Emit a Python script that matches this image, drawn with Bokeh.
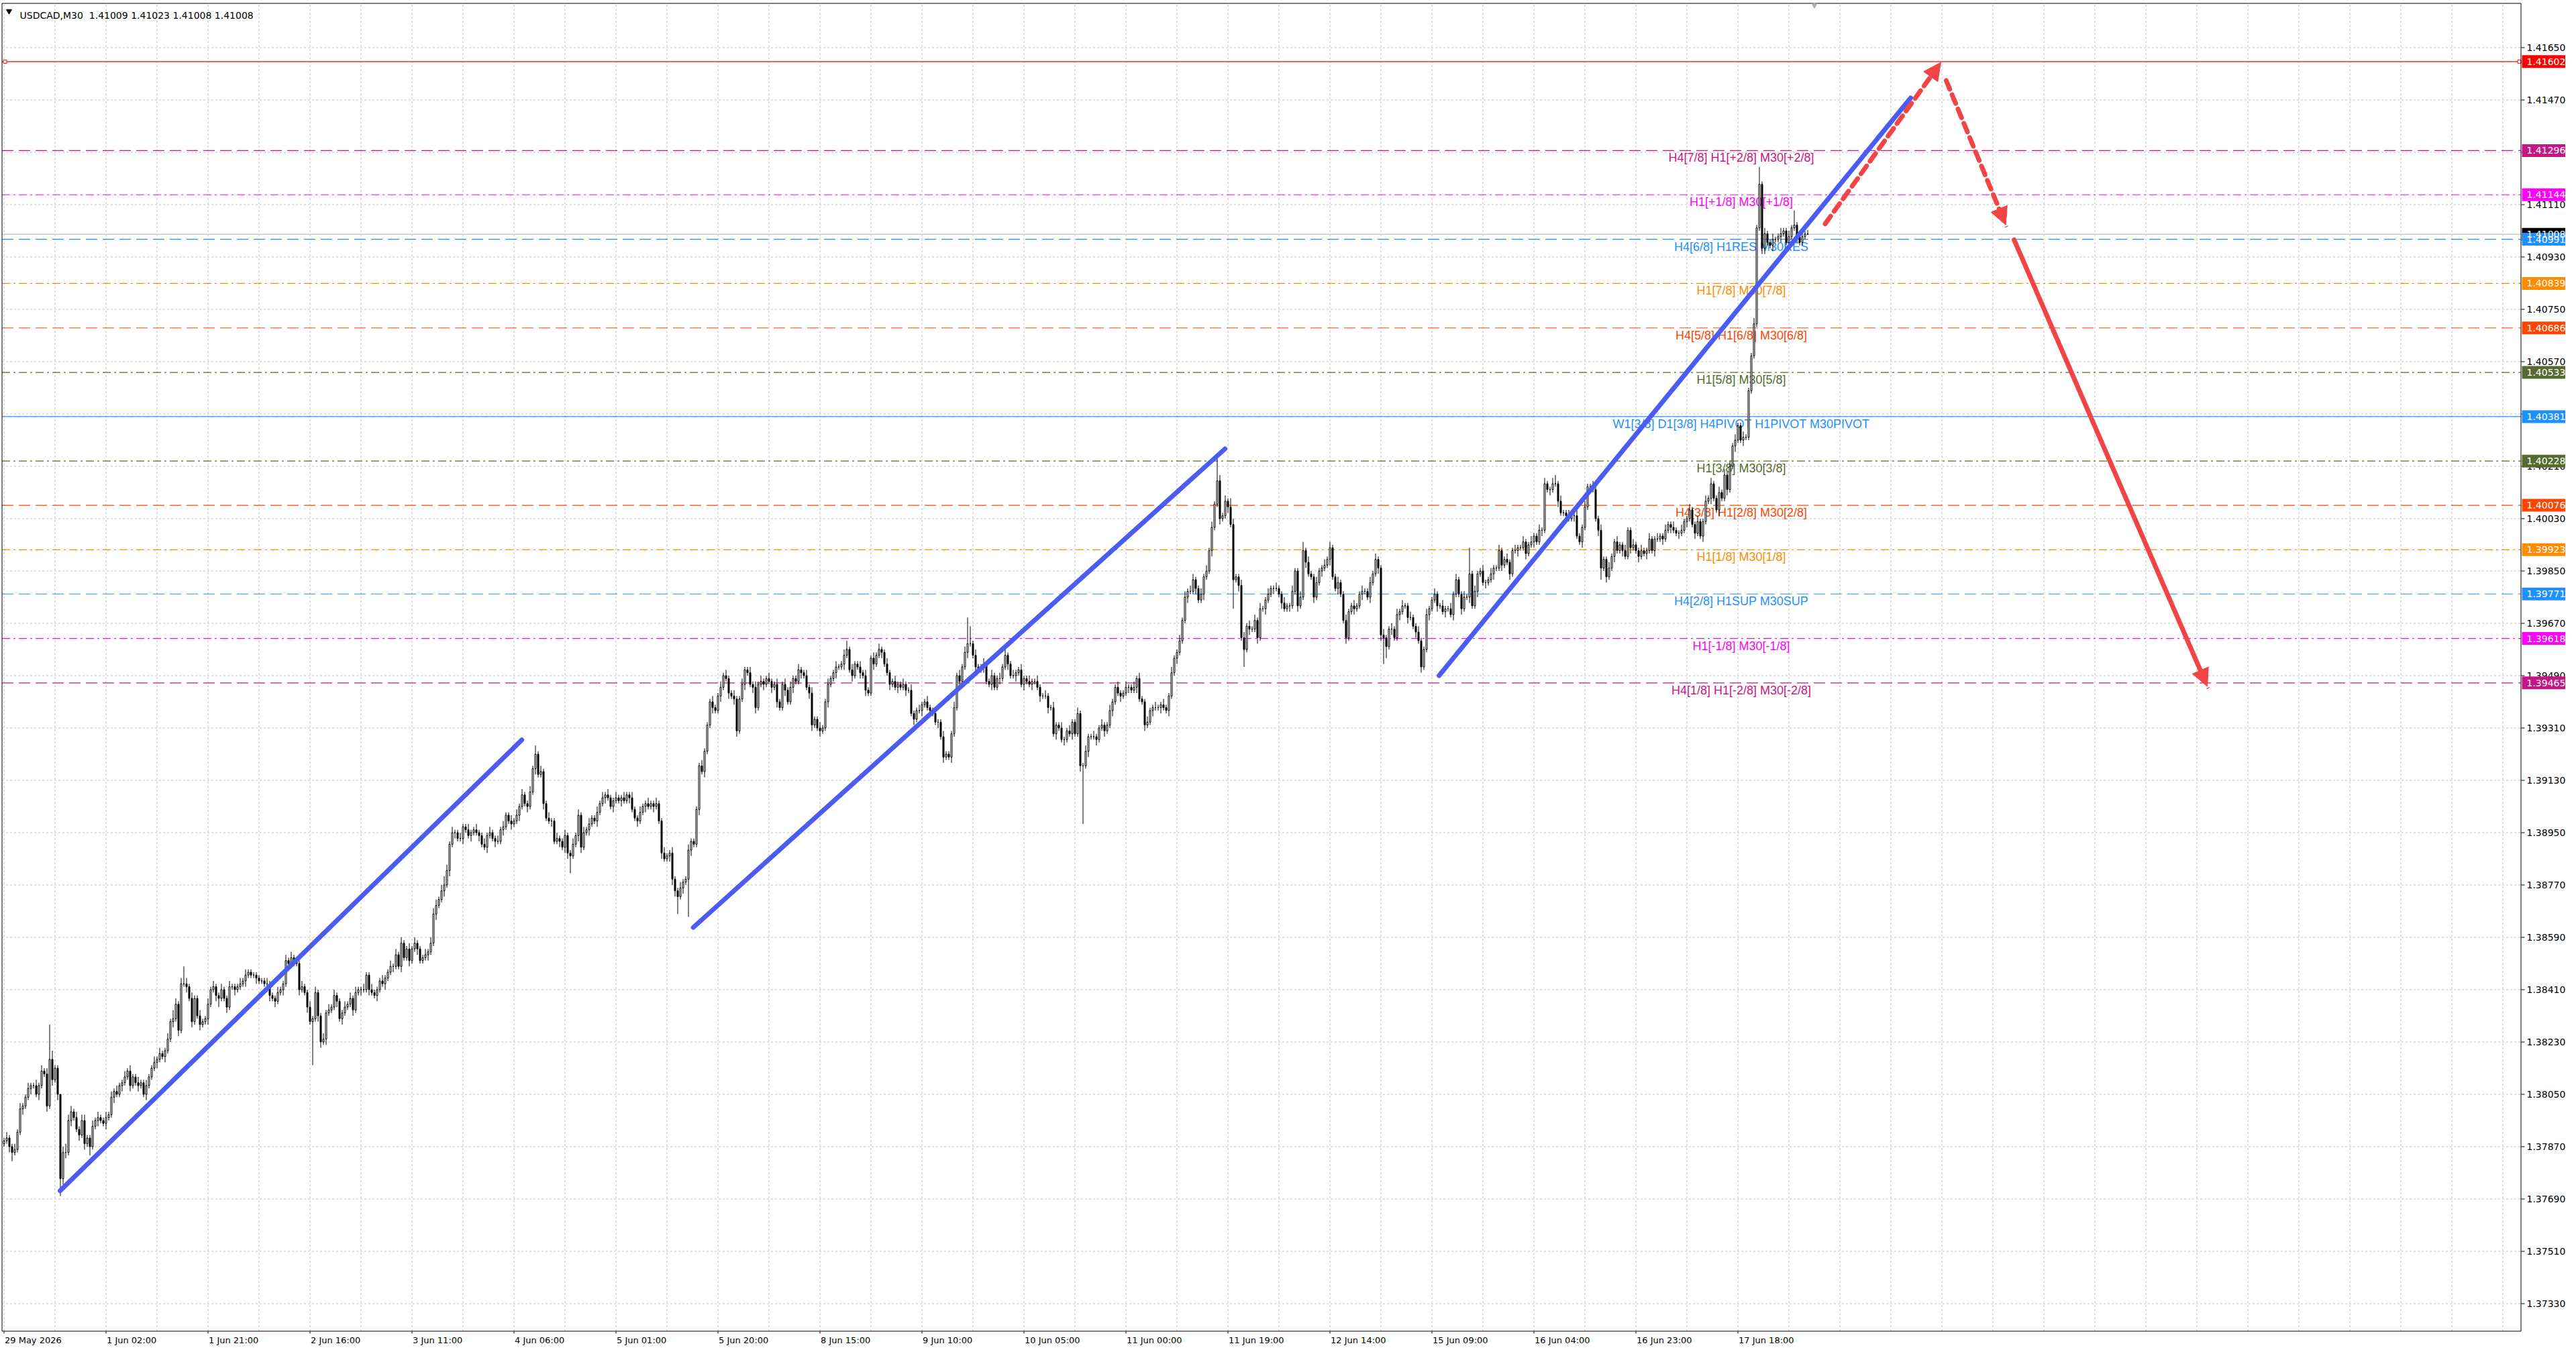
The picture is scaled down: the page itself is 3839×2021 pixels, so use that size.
from bokeh.plotting import figure
from bokeh.models import ColumnDataSource, Range1d, Arrow, NormalHead
from bokeh.core.properties import value
from bokeh.embed import file_html
from bokeh.resources import INLINE

# ---------------------------------------------------------------- data
TITLE_TEXT = "USDCAD,M30 \u00a01.41009 1.41023 1.41008 1.41008"
BASE_PRICE = 1.3700          # closes / wicks below are in pips above this
PIP = 0.0001
FIRST_OPEN_PIPS = 88

CLOSE_PIPS = [
    89, 90, 87, 85, 86, 92, 100, 101, 104, 107, 108, 108, 105, 108, 113, 112, 101, 117, 110, 114,
    105, 76, 85, 85, 96, 99, 97, 93, 91, 96, 88, 90, 87, 94, 96, 97, 96, 95, 97, 98,
    104, 106, 105, 108, 109, 111, 113, 108, 111, 109, 108, 109, 105, 108, 111, 114, 116, 117, 119, 118,
    120, 124, 130, 131, 136, 127, 143, 143, 142, 138, 130, 138, 132, 129, 130, 131, 136, 141, 142, 139,
    138, 141, 138, 135, 142, 142, 141, 142, 143, 144, 146, 147, 146, 146, 145, 144, 144, 143, 143, 139,
    138, 137, 140, 141, 143, 151, 150, 152, 151, 150, 141, 142, 140, 135, 130, 131, 140, 132, 123, 124,
    133, 134, 135, 139, 137, 131, 133, 135, 136, 138, 134, 140, 141, 141, 141, 146, 141, 140, 139, 141,
    144, 143, 145, 147, 149, 149, 153, 149, 157, 152, 155, 151, 155, 157, 155, 151, 152, 153, 154, 157,
    167, 170, 172, 175, 177, 182, 191, 195, 195, 193, 193, 197, 196, 194, 195, 196, 195, 194, 191, 190,
    194, 195, 193, 192, 192, 196, 197, 201, 199, 198, 199, 201, 204, 208, 205, 204, 209, 217, 222, 215,
    216, 205, 200, 199, 199, 192, 193, 192, 190, 194, 188, 187, 191, 194, 201, 190, 195, 196, 198, 200,
    199, 202, 205, 207, 208, 207, 204, 206, 207, 206, 207, 206, 208, 207, 203, 200, 199, 202, 204, 205,
    204, 205, 204, 205, 199, 188, 186, 187, 188, 179, 175, 173, 176, 178, 179, 189, 192, 191, 203, 218,
    216, 223, 232, 240, 238, 237, 242, 245, 249, 248, 243, 242, 241, 230, 241, 246, 251, 250, 246, 245,
    238, 246, 247, 246, 248, 247, 245, 246, 240, 238, 246, 244, 240, 245, 248, 247, 251, 250, 249, 245,
    243, 232, 234, 231, 230, 231, 240, 246, 248, 250, 252, 252, 253, 256, 258, 251, 249, 253, 252, 250,
    249, 244, 243, 255, 253, 256, 258, 257, 253, 250, 246, 247, 245, 246, 245, 246, 244, 244, 236, 234,
    237, 237, 239, 240, 238, 237, 236, 233, 233, 228, 221, 222, 221, 229, 238, 249, 247, 252, 257, 260,
    260, 256, 252, 251, 252, 253, 247, 246, 249, 245, 248, 248, 252, 256, 253, 249, 249, 250, 251, 246,
    248, 247, 246, 247, 247, 245, 242, 242, 242, 238, 238, 229, 232, 231, 227, 227, 230, 229, 233, 229,
    236, 218, 218, 223, 228, 228, 228, 227, 231, 232, 230, 232, 237, 240, 245, 243, 242, 243, 245, 245,
    244, 245, 248, 241, 240, 232, 233, 237, 238, 238, 238, 239, 238, 237, 242, 250, 255, 257, 261, 268,
    276, 278, 278, 282, 279, 275, 277, 283, 285, 292, 300, 308, 316, 303, 304, 309, 307, 301, 282, 283,
    280, 262, 258, 266, 265, 265, 268, 262, 272, 272, 275, 277, 279, 279, 279, 277, 274, 272, 273, 273,
    278, 285, 273, 276, 292, 288, 284, 283, 276, 281, 285, 286, 287, 289, 293, 283, 279, 281, 277, 268,
    262, 271, 273, 272, 273, 277, 278, 278, 276, 281, 284, 289, 286, 263, 262, 259, 265, 265, 262, 270,
    271, 273, 273, 269, 269, 266, 264, 261, 252, 258, 270, 272, 275, 277, 273, 273, 271, 272, 272, 270,
    277, 282, 277, 272, 276, 276, 284, 273, 278, 284, 285, 281, 281, 282, 284, 286, 286, 292, 287, 289,
    288, 284, 292, 292, 293, 293, 295, 291, 294, 295, 297, 295, 299, 299, 315, 313, 313, 315, 315, 309,
    305, 305, 304, 303, 304, 304, 297, 295, 300, 307, 314, 314, 313, 303, 299, 286, 289, 283, 286, 290,
    295, 292, 294, 292, 290, 299, 293, 294, 292, 290, 292, 291, 292, 296, 292, 296, 296, 297, 296, 299,
    301, 300, 299, 298, 298, 299, 302, 303, 306, 301, 298, 302, 297, 302, 309, 310, 315, 310, 306, 312,
    310, 318, 313, 321, 328, 330, 335, 330, 331, 331, 347, 359, 370, 403, 418, 396, 401, 398, 397, 399,
    399, 400, 401, 402, 398, 400, 403, 404, 400, 398, 400, 400.9, 400.8,
]

UPPER_WICK_PIPS = [
    1, 2, 1, 1, 2, 1, 2, 1, 1, 2, 1, 1, 2, 1, 2, 1, 2, 12, 3, 1,
    1, 0, 2, 3, 2, 2, 1, 2, 1, 2, 2, 1, 1, 2, 1, 2, 1, 1, 2, 1,
    2, 1, 2, 1, 1, 2, 1, 2, 1, 1, 2, 1, 1, 2, 1, 1, 2, 1, 2, 1,
    1, 2, 1, 3, 2, 1, 2, 6, 2, 1, 2, 1, 1, 2, 1, 1, 2, 1, 2, 1,
    1, 2, 1, 1, 2, 1, 1, 1, 2, 1, 2, 1, 1, 1, 1, 1, 1, 1, 2, 1,
    1, 1, 2, 1, 1, 2, 1, 2, 1, 1, 1, 2, 1, 1, 2, 1, 2, 1, 1, 2,
    1, 2, 1, 2, 1, 1, 1, 2, 1, 2, 1, 2, 1, 1, 2, 1, 1, 2, 1, 1,
    1, 2, 1, 1, 2, 1, 2, 1, 2, 1, 1, 2, 1, 2, 1, 1, 1, 2, 1, 2,
    2, 2, 1, 2, 3, 2, 1, 2, 1, 1, 2, 1, 1, 2, 1, 1, 2, 1, 1, 2,
    1, 2, 1, 1, 2, 1, 2, 1, 1, 2, 1, 2, 1, 2, 1, 1, 2, 1, 3, 1,
    2, 1, 1, 2, 1, 1, 2, 1, 1, 2, 1, 1, 2, 1, 2, 1, 2, 1, 2, 1,
    1, 2, 1, 2, 1, 2, 1, 1, 2, 1, 1, 2, 1, 1, 2, 1, 1, 2, 1, 1,
    2, 1, 1, 2, 1, 1, 2, 1, 1, 2, 1, 1, 2, 1, 1, 2, 1, 1, 1, 1,
    2, 1, 1, 1, 2, 1, 1, 2, 1, 2, 1, 1, 2, 1, 1, 2, 1, 1, 2, 1,
    2, 1, 2, 1, 1, 2, 1, 1, 2, 1, 1, 2, 1, 2, 1, 1, 2, 1, 1, 2,
    1, 2, 1, 1, 2, 1, 1, 2, 1, 1, 2, 1, 1, 2, 3, 1, 2, 1, 1, 2,
    1, 2, 1, 1, 2, 1, 2, 1, 1, 2, 1, 1, 2, 1, 1, 2, 1, 1, 2, 1,
    1, 2, 1, 1, 2, 1, 1, 2, 1, 1, 2, 1, 1, 1, 2, 1, 2, 1, 2, 9,
    6, 1, 2, 1, 1, 2, 1, 1, 2, 1, 1, 2, 1, 2, 1, 1, 2, 1, 1, 2,
    1, 1, 2, 1, 1, 2, 1, 1, 2, 1, 1, 2, 1, 1, 2, 1, 1, 2, 1, 1,
    2, 1, 1, 2, 1, 1, 2, 1, 1, 2, 1, 1, 2, 1, 1, 2, 1, 1, 2, 1,
    1, 2, 1, 2, 1, 1, 2, 1, 1, 2, 1, 1, 2, 1, 1, 2, 1, 1, 2, 1,
    2, 1, 2, 2, 1, 1, 2, 1, 2, 1, 2, 1, 8, 2, 1, 2, 1, 3, 2, 1,
    1, 2, 2, 1, 2, 1, 2, 1, 2, 1, 1, 2, 1, 1, 2, 1, 1, 2, 1, 1,
    2, 1, 1, 2, 3, 1, 2, 1, 1, 2, 1, 1, 2, 1, 2, 1, 1, 2, 1, 1,
    2, 1, 1, 2, 1, 1, 2, 1, 1, 2, 1, 2, 1, 1, 2, 1, 1, 2, 1, 2,
    1, 2, 1, 1, 2, 1, 1, 2, 1, 1, 2, 1, 1, 2, 1, 1, 2, 1, 1, 2,
    1, 2, 1, 1, 2, 1, 9, 1, 2, 1, 1, 2, 1, 1, 2, 1, 1, 2, 1, 1,
    2, 1, 1, 2, 1, 1, 2, 1, 1, 2, 1, 1, 2, 1, 2, 1, 1, 2, 3, 1,
    2, 1, 1, 2, 1, 1, 2, 1, 1, 2, 1, 1, 2, 1, 1, 2, 1, 1, 2, 1,
    1, 2, 1, 1, 2, 1, 1, 2, 1, 1, 2, 1, 1, 2, 1, 1, 2, 1, 1, 2,
    1, 1, 2, 1, 1, 2, 1, 1, 2, 1, 1, 2, 1, 1, 2, 1, 2, 1, 1, 2,
    1, 2, 1, 2, 1, 2, 1, 1, 2, 1, 1, 1, 2, 1, 6, 1, 2, 1, 1, 2,
    1, 1, 2, 1, 1, 2, 1, 5, 1, 1, 2, 1, 1.4,
]

LOWER_WICK_PIPS = [
    1, 1, 2, 3, 1, 1, 1, 2, 1, 1, 2, 1, 1, 2, 1, 1, 2, 1, 2, 1,
    2, 6, 2, 2, 1, 2, 1, 1, 2, 1, 2, 1, 3, 1, 1, 2, 1, 1, 2, 1,
    1, 2, 1, 1, 2, 1, 1, 2, 1, 1, 2, 1, 1, 2, 1, 1, 1, 2, 1, 1,
    2, 1, 1, 2, 1, 2, 1, 1, 2, 1, 2, 1, 1, 2, 1, 1, 2, 1, 1, 2,
    3, 1, 1, 2, 1, 1, 2, 1, 1, 1, 2, 1, 1, 1, 2, 1, 1, 1, 1, 2,
    1, 2, 1, 1, 2, 1, 1, 1, 2, 1, 2, 1, 1, 2, 1, 15, 1, 2, 2, 1,
    2, 1, 1, 1, 2, 1, 2, 1, 1, 1, 2, 1, 1, 2, 1, 1, 2, 1, 1, 2,
    1, 1, 2, 1, 1, 2, 1, 1, 2, 1, 1, 2, 1, 1, 2, 1, 1, 1, 2, 1,
    1, 2, 1, 1, 2, 1, 2, 1, 2, 1, 1, 2, 1, 1, 2, 1, 1, 2, 1, 1,
    2, 1, 1, 2, 1, 1, 2, 1, 1, 2, 1, 1, 2, 1, 1, 2, 1, 1, 2, 1,
    1, 2, 1, 1, 2, 1, 1, 2, 1, 2, 2, 6, 1, 1, 2, 2, 1, 1, 2, 1,
    1, 2, 1, 1, 2, 1, 1, 2, 1, 1, 2, 1, 1, 2, 1, 1, 2, 1, 1, 2,
    1, 1, 2, 1, 1, 2, 1, 1, 2, 2, 2, 6, 1, 2, 1, 13, 2, 1, 1, 2,
    1, 2, 1, 1, 2, 1, 1, 2, 1, 1, 2, 1, 2, 2, 1, 1, 2, 1, 1, 2,
    2, 1, 1, 2, 1, 1, 2, 1, 2, 1, 1, 2, 1, 1, 2, 1, 1, 2, 1, 1,
    2, 2, 1, 1, 2, 1, 1, 2, 1, 1, 2, 1, 1, 2, 1, 1, 2, 1, 1, 2,
    1, 2, 1, 1, 2, 1, 1, 2, 1, 1, 2, 1, 1, 2, 1, 1, 2, 1, 1, 2,
    1, 1, 2, 1, 1, 2, 1, 1, 2, 1, 2, 1, 1, 2, 1, 1, 2, 1, 1, 2,
    1, 1, 2, 1, 1, 2, 1, 1, 2, 1, 1, 2, 1, 1, 2, 1, 1, 2, 1, 1,
    2, 1, 1, 2, 1, 1, 2, 1, 1, 2, 1, 1, 2, 1, 1, 2, 1, 1, 2, 1,
    1, 2, 20, 1, 2, 1, 1, 2, 1, 1, 2, 1, 1, 2, 1, 1, 2, 1, 1, 2,
    1, 1, 2, 1, 1, 2, 1, 1, 2, 1, 1, 2, 1, 1, 2, 1, 1, 2, 1, 1,
    1, 2, 1, 1, 2, 1, 1, 2, 1, 1, 2, 1, 1, 2, 1, 1, 2, 1, 10, 1,
    2, 1, 6, 1, 2, 1, 1, 2, 1, 1, 2, 1, 1, 2, 1, 1, 2, 1, 1, 2,
    1, 1, 2, 1, 1, 2, 1, 1, 2, 1, 1, 2, 1, 1, 2, 1, 1, 2, 1, 1,
    2, 1, 1, 2, 1, 1, 2, 1, 1, 2, 1, 1, 2, 2, 9, 4, 1, 2, 1, 1,
    2, 1, 1, 2, 1, 1, 2, 1, 2, 1, 1, 2, 1, 1, 2, 1, 1, 2, 1, 1,
    2, 1, 1, 2, 1, 1, 2, 1, 1, 2, 1, 1, 2, 1, 1, 2, 1, 1, 2, 1,
    1, 2, 1, 1, 2, 1, 1, 2, 1, 1, 2, 1, 1, 2, 1, 1, 2, 1, 1, 2,
    1, 1, 2, 1, 1, 2, 1, 1, 2, 1, 1, 2, 1, 1, 2, 4, 1, 2, 1, 1,
    2, 1, 1, 2, 1, 1, 2, 1, 1, 2, 1, 1, 2, 1, 1, 2, 1, 1, 2, 1,
    1, 2, 1, 1, 2, 1, 1, 2, 1, 1, 2, 1, 1, 2, 1, 1, 2, 1, 1, 2,
    1, 1, 2, 1, 1, 2, 1, 1, 2, 1, 1, 1, 1, 1, 1, 2, 2, 1, 1, 2,
    1, 1, 2, 1, 1, 2, 1, 1, 2, 1, 1, 1, 0,
]

TIME_LABEL_BARS = [0, 38, 76, 114, 152, 190, 228, 266, 304, 342, 380, 418, 456, 494, 532, 570, 608, 646]
TIME_LABELS = ["29 May 2026", "1 Jun 02:00", "1 Jun 21:00", "2 Jun 16:00", "3 Jun 11:00",
               "4 Jun 06:00", "5 Jun 01:00", "5 Jun 20:00", "8 Jun 15:00", "9 Jun 10:00",
               "10 Jun 05:00", "11 Jun 00:00", "11 Jun 19:00", "12 Jun 14:00", "15 Jun 09:00",
               "16 Jun 04:00", "16 Jun 23:00", "17 Jun 18:00"]
GRID_BARS = list(range(0, 938, 19))

PRICE_TICKS = [1.41650, 1.41470, 1.41290, 1.41110, 1.40930, 1.40750, 1.40570, 1.40390,
               1.40210, 1.40030, 1.39850, 1.39670, 1.39490, 1.39310, 1.39130, 1.38950,
               1.38770, 1.38590, 1.38410, 1.38230, 1.38050, 1.37870, 1.37690, 1.37510, 1.37330]

LEVEL_PRICES = [1.41296, 1.41144, 1.40991, 1.40839, 1.40686, 1.40533, 1.40381,
                1.40228, 1.40076, 1.39923, 1.39771, 1.39618, 1.39465]
LEVEL_TEXTS = ["H4[7/8] H1[+2/8] M30[+2/8]", "H1[+1/8] M30[+1/8]", "H4[6/8] H1RES M30RES",
               "H1[7/8] M30[7/8]", "H4[5/8] H1[6/8] M30[6/8]", "H1[5/8] M30[5/8]",
               "W1[3/8] D1[3/8] H4PIVOT H1PIVOT M30PIVOT", "H1[3/8] M30[3/8]",
               "H4[3/8] H1[2/8] M30[2/8]", "H1[1/8] M30[1/8]", "H4[2/8] H1SUP M30SUP",
               "H1[-1/8] M30[-1/8]", "H4[1/8] H1[-2/8] M30[-2/8]"]
LEVEL_COLORS = ["#C71585", "#FF00FF", "#1E90FF", "#FF8C00", "#FF4500", "#556B2F", "#1E90FF",
                "#556B2F", "#FF4500", "#FF8C00", "#1E90FF", "#FF00FF", "#C71585"]
LEVEL_DASHES = ["17 8", "12 5 3 5", "17 8", "12 5 3 5", "17 8", "12 5 3 5", "solid",
                "12 5 3 5", "17 8", "12 5 3 5", "17 8", "12 5 3 5", "17 8"]
LEVEL_LABEL_BAR = 647.25

RESIST_LINE_PRICE = 1.41602
BID_PRICE = 1.41008

TREND_X0 = [20.9, 256.8, 534.65]
TREND_Y0 = [1.37718, 1.38624, 1.39490]
TREND_X1 = [192.9, 454.9, 710.35]
TREND_Y1 = [1.39269, 1.40270, 1.41477]

ARROW_X0 = [678.5, 723.6, 748.9]
ARROW_Y0 = [1.41044, 1.41537, 1.40989]
ARROW_X1 = [721.6, 745.8, 820.9]
ARROW_Y1 = [1.41599, 1.41040, 1.39453]
ARROW_DASHES = ["14 9", "14 9", "solid"]

BOX_PRICES = [BID_PRICE, RESIST_LINE_PRICE] + LEVEL_PRICES
BOX_COLORS = ["#000000", "#FF0000"] + LEVEL_COLORS

# ---------------------------------------------------------------- page geometry (pixels)
W, H = 3823, 2005
PX_PER_BAR = 4.0
BAR0_PX = 5.5
PX_PER_PRICE = 78.0 / 0.0018
REF_PRICE, REF_PX = 1.41650, 70.5


def bx(px):
    return (px - BAR0_PX) / PX_PER_BAR


def py(px):
    return REF_PRICE - (px - REF_PX) / PX_PER_PRICE


PL, PR, PT, PB = 2.5, 3756.5, 4.5, 1983.5   # plot-area border lines

# ---------------------------------------------------------------- candles
n = len(CLOSE_PIPS)
xs, opens, closes, highs, lows, fills = [], [], [], [], [], []
prev = FIRST_OPEN_PIPS
for i in range(n):
    o = prev
    c = CLOSE_PIPS[i]
    h = max(o, c) + UPPER_WICK_PIPS[i]
    l = min(o, c) - LOWER_WICK_PIPS[i]
    xs.append(i)
    opens.append(BASE_PRICE + o * PIP)
    closes.append(BASE_PRICE + c * PIP)
    highs.append(BASE_PRICE + h * PIP)
    lows.append(BASE_PRICE + l * PIP)
    fills.append("white" if c >= o else "black")
    prev = c
src = ColumnDataSource(dict(x=xs, h=highs, l=lows,
                            top=[max(a, b) for a, b in zip(opens, closes)],
                            bot=[min(a, b) for a, b in zip(opens, closes)],
                            fill=fills))

# ---------------------------------------------------------------- figure
p = figure(width=W, height=H, output_backend="svg", toolbar_location=None, title=None,
           x_range=Range1d(bx(0), bx(W)), y_range=Range1d(py(H), py(0)),
           x_axis_location=None, y_axis_location=None,
           min_border=0, min_border_left=0, min_border_right=0,
           min_border_top=0, min_border_bottom=0)
p.grid.visible = False
p.outline_line_color = None
p.background_fill_color = "white"
p.border_fill_color = "white"

# grid
gv = [b for b in GRID_BARS if bx(PL) < b < bx(PR)]
p.segment(x0=gv, y0=[py(PB)] * len(gv), x1=gv, y1=[py(PT)] * len(gv),
          line_color="#C0C0C0", line_width=1, line_dash="3 3")
gh = [t for t in PRICE_TICKS if py(PB) < t < py(PT)]
p.segment(x0=[bx(PL)] * len(gh), y0=gh, x1=[bx(PR)] * len(gh), y1=gh,
          line_color="#C0C0C0", line_width=1, line_dash="3 3")

# level lines
for pr, col, dash in zip(LEVEL_PRICES, LEVEL_COLORS, LEVEL_DASHES):
    p.segment(x0=[bx(PL)], y0=[pr], x1=[bx(PR)], y1=[pr], line_color=col,
              line_width=1.2, line_dash=dash)
p.segment(x0=[bx(PL)], y0=[BID_PRICE], x1=[bx(PR)], y1=[BID_PRICE],
          line_color="#C0C0C0", line_width=1.2)
p.segment(x0=[bx(PL)], y0=[RESIST_LINE_PRICE], x1=[bx(PR)], y1=[RESIST_LINE_PRICE],
          line_color="#FF0000", line_width=1.2)

# level texts (under the candles)
lvl_src = ColumnDataSource(dict(x=[LEVEL_LABEL_BAR] * len(LEVEL_PRICES), y=LEVEL_PRICES,
                                text=LEVEL_TEXTS, color=LEVEL_COLORS))
p.text(x="x", y="y", text="text", source=lvl_src, text_color="color",
       text_font=value("Liberation Sans"), text_font_size="18px",
       text_align="center", text_baseline="top", y_offset=1)

# candles
p.segment(x0="x", y0="l", x1="x", y1="h", source=src, line_color="black", line_width=1)
p.vbar(x="x", width=0.5, top="top", bottom="bot", source=src, fill_color="fill",
       line_color="black", line_width=1)

# trend lines
p.segment(x0=TREND_X0, y0=TREND_Y0, x1=TREND_X1, y1=TREND_Y1, line_color="#4A5CF2",
          line_width=7, line_cap="round")

# red arrows
for ax0, ay0, ax1, ay1, dash in zip(ARROW_X0, ARROW_Y0, ARROW_X1, ARROW_Y1, ARROW_DASHES):
    p.add_layout(Arrow(x_start=ax0, y_start=ay0, x_end=ax1, y_end=ay1,
                       line_color="#F24444", line_width=7, line_dash=dash, line_cap="round",
                       end=NormalHead(size=26, fill_color="#F24444", line_color="#F24444",
                                      line_width=1)))

# anchor squares of the red horizontal line
p.scatter(x=[bx(7), bx(3754)], y=[RESIST_LINE_PRICE] * 2, marker="square", size=5,
          fill_color="white", line_color="#FF0000", line_width=1)

# plot-area border
p.quad(left=[bx(PL)], right=[bx(PR)], bottom=[py(PB)], top=[py(PT)],
       fill_color=None, line_color="black", line_width=1)

# right price scale: ticks and labels
tk = [t for t in PRICE_TICKS if py(PB) < t < py(PT)]
p.segment(x0=[bx(3757)] * len(tk), y0=tk, x1=[bx(3762)] * len(tk), y1=tk,
          line_color="black", line_width=1)
p.text(x=[bx(3765)] * len(tk), y=tk, text=["%.5f" % t for t in tk], text_color="black",
       text_font=value("DejaVu Sans"), text_font_size="14px",
       text_align="left", text_baseline="middle")

# coloured price boxes
p.rect(x=[bx(3790.5)] * len(BOX_PRICES), y=BOX_PRICES, width=65, height=19,
       width_units="screen", height_units="screen", fill_color=BOX_COLORS, line_color=None)
p.text(x=[bx(3765)] * len(BOX_PRICES), y=BOX_PRICES, text=["%.5f" % b for b in BOX_PRICES],
       text_color="white", text_font=value("DejaVu Sans"), text_font_size="14px",
       text_align="left", text_baseline="middle")

# time scale: ticks and labels (kept fully inside the page)
p.segment(x0=TIME_LABEL_BARS, y0=[py(1984)] * len(TIME_LABEL_BARS),
          x1=TIME_LABEL_BARS, y1=[py(1987)] * len(TIME_LABEL_BARS),
          line_color="black", line_width=1)
p.text(x=TIME_LABEL_BARS, y=[py(1996.5)] * len(TIME_LABEL_BARS), text=TIME_LABELS,
       text_color="black", text_font=value("DejaVu Sans"), text_font_size="13px",
       text_align="left", text_baseline="alphabetic", x_offset=1)

# title and markers
p.text(x=[bx(29)], y=[py(22.5)], text=[TITLE_TEXT], text_color="black",
       text_font=value("DejaVu Sans"), text_font_size="14px",
       text_align="left", text_baseline="alphabetic")
p.scatter(x=[bx(13)], y=[py(16)], marker="inverted_triangle", size=8,
          fill_color="black", line_color="black")
p.scatter(x=[n - 1 + 2.5], y=[py(7)], marker="inverted_triangle", size=8,
          fill_color="#A9A9A9", line_color="#A9A9A9")

open("out.html", "w").write(file_html(p, INLINE))
